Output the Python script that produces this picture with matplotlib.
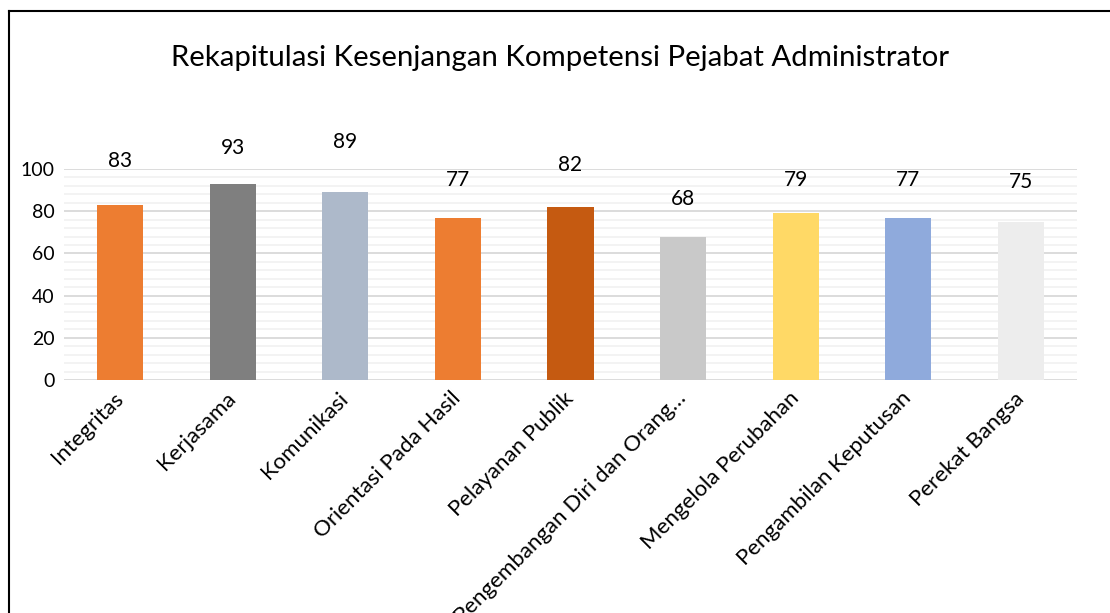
import numpy as np
import matplotlib.pyplot as plt
from matplotlib.lines import Line2D

plt.rcParams['font.family'] = ['Lato', 'DejaVu Sans']

categories = ['Integritas', 'Kerjasama', 'Komunikasi', 'Orientasi Pada Hasil',
              'Pelayanan Publik', 'Pengembangan Diri dan Orang…', 'Mengelola Perubahan',
              'Pengambilan Keputusan', 'Perekat Bangsa']
values = [83, 93, 89, 77, 82, 68, 79, 77, 75]
colors = ['#ED7D31', '#7F7F7F', '#ADB9CA', '#ED7D31', '#C55A11',
          '#C9C9C9', '#FFD966', '#8FAADC', '#EDEDED']
# label height above the bar (data units), as placed in the original
label_offset = [21, 17, 24, 18, 20, 18, 16, 18, 19]

fig = plt.figure(figsize=(11.1, 6.13), dpi=100)
ax = fig.add_axes([64/1110, 1 - 380/613, (1077-64)/1110, (380-169)/613])

x = np.arange(len(categories))
ax.bar(x, values, width=0.41, color=colors, zorder=3)
for xi, v, off in zip(x, values, label_offset):
    ax.text(xi, v + off, str(v), ha='center', va='center', fontsize=15, clip_on=False)

ax.set_xlim(-0.5, len(categories) - 0.5)
ax.set_ylim(0, 100)
ax.set_yticks(np.arange(0, 101, 20))
ax.set_yticks(np.arange(0, 101, 4), minor=True)
ax.grid(axis='y', which='major', color='#D9D9D9', linewidth=1.3, zorder=0)
ax.grid(axis='y', which='minor', color='#F2F2F2', linewidth=1.3, zorder=0)
for s in ax.spines.values():
    s.set_visible(False)
ax.tick_params(axis='both', which='both', length=0)
ax.tick_params(axis='y', pad=7, labelsize=14)
ax.set_xticks(x)
ax.set_xticklabels(categories, rotation=45, ha='right', va='center',
                   rotation_mode='anchor', fontsize=16)
ax.tick_params(axis='x', pad=11)

fig.text(560/1110, 1 - 58/613, 'Rekapitulasi Kesenjangan Kompetensi Pejabat Administrator',
         ha='center', va='center', fontsize=21.2)

# outer frame (left and top edges visible)
fig.add_artist(Line2D([9/1110, 9/1110], [0, 1 - 11/613], color='black', linewidth=1.5,
                      transform=fig.transFigure))
fig.add_artist(Line2D([9/1110, 1], [1 - 11/613, 1 - 11/613], color='black', linewidth=1.5,
                      transform=fig.transFigure))

fig.savefig('out.png', dpi=100)
